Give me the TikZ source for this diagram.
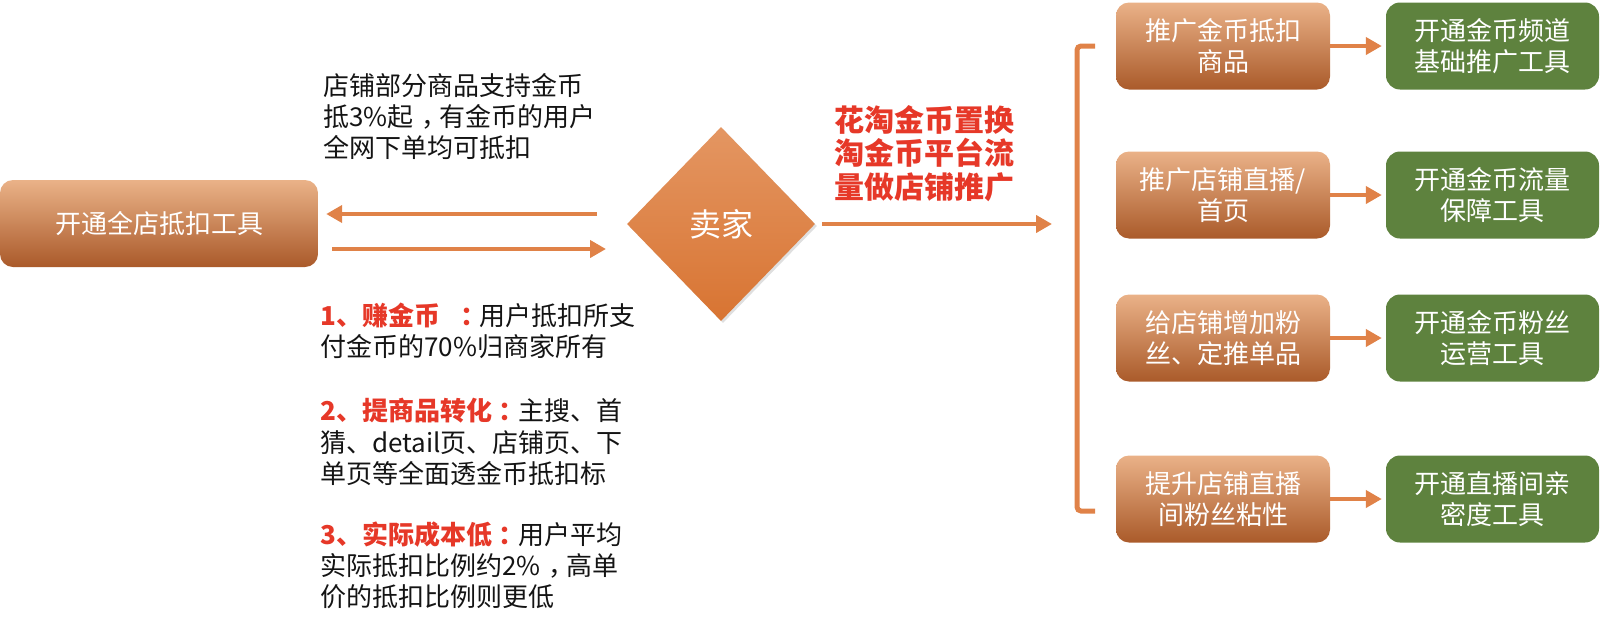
\documentclass[tikz,border=0pt]{standalone}
\usepackage{fontspec}
\setmainfont{Noto Sans CJK SC}
\usetikzlibrary{arrows.meta,shapes.geometric,shadows}
\definecolor{otop}{RGB}{234,178,136}
\definecolor{omid}{RGB}{224,134,70}
\definecolor{obot}{RGB}{170,90,42}
\definecolor{dtop}{RGB}{228,150,98}
\definecolor{dbot}{RGB}{216,116,50}
\definecolor{gfill}{RGB}{94,130,62}
\definecolor{arrowc}{RGB}{224,130,72}
\definecolor{redc}{RGB}{230,56,40}
\definecolor{textc}{RGB}{20,20,20}
\newcommand{\shiftpunct}[2]{\hspace{#1}#2\hspace{-#1}}
\begin{document}
\begin{tikzpicture}[x=1pt,y=-1pt,
  obox/.style={rounded corners=13pt, top color=otop, middle color=omid, bottom color=obot,
    minimum width=214pt, minimum height=87pt, text=white, align=center,
    font=\fontsize{26}{31}\selectfont, inner sep=0pt},
  gbox/.style={rounded corners=14pt, fill=gfill, minimum width=213pt, minimum height=87pt,
    text=white, align=center, font=\fontsize{26}{31}\selectfont, inner sep=0pt},
  arr/.style={draw=arrowc, line width=4pt, -{Triangle[length=16pt,width=17pt]}},
  bline/.style={draw=arrowc, line width=5pt, rounded corners=4pt},
  note/.style={anchor=west, align=left, inner sep=0pt, text=textc, font=\fontsize{26}{31.2}\selectfont}]
\useasboundingbox (0,0) rectangle (1600,627);

% left box
\node[obox, minimum width=318pt] (leftbox) at (159,223.5) {开通全店抵扣工具};

% seller diamond
\node[diamond, minimum width=188pt, minimum height=194pt, inner sep=0pt,
  top color=dtop, bottom color=dbot, text=white, font=\fontsize{32}{38}\selectfont,
  drop shadow={opacity=0.25, shadow xshift=2pt, shadow yshift=-2pt}] (seller) at (721,224) {卖家};

% arrows between left box and seller
\coordinate (u1) at (597,214);
\coordinate (l1) at (332,249);
\coordinate (l2) at (606,249);
\draw[arr, shorten >=8pt] (u1) -- (leftbox.east |- u1);
\draw[arr] (l1) -- (l2);

% notes
\node[note] (note1) at (323,116.5) {店铺部分商品支持金币\\抵3\%起\shiftpunct{0.3em}{，}有金币的用户\\全网下单均可抵扣};
\node[note] (p1) at (320,331) {\textcolor{redc}{\bfseries 1、赚金币\hspace{0.5em}\shiftpunct{0.3em}{：}}用户抵扣所支\\付金币的70\%归商家所有};
\node[note] (p2) at (320,442) {\textcolor{redc}{\bfseries 2、提商品转化\shiftpunct{0.25em}{：}}主搜、首\\猜、detail页、店铺页、下\\单页等全面透金币抵扣标};
\node[note] (p3) at (320,565) {\textcolor{redc}{\bfseries 3、实际成本低\shiftpunct{0.25em}{：}}用户平均\\实际抵扣比例约2\%\shiftpunct{0.3em}{，}高单\\价的抵扣比例则更低};

% promo text
\node[anchor=west, align=left, inner sep=0pt, text=redc, font=\bfseries\fontsize{30}{33.5}\selectfont] (promo) at (834,153.5) {花淘金币置换\\淘金币平台流\\量做店铺推广};

% long arrow to bracket
\coordinate (bk) at (1052,224);
\draw[arr] ([xshift=7pt]seller.east) -- (bk);

% bracket
\coordinate (b1) at (1095,46);
\coordinate (b2) at (1095,511);
\draw[bline] (b1) -- (1077,46) -- (1077,511) -- (b2);

% right boxes
\node[obox] (o1) at (1223,46) {推广金币抵扣\\商品};
\node[obox] (o2) at (1223,195) {推广店铺直播/\\首页};
\node[obox] (o3) at (1223,338) {给店铺增加粉\\丝、定推单品};
\node[obox] (o4) at (1223,499) {提升店铺直播\\间粉丝粘性};

\node[gbox] (g1) at (1492.5,46) {开通金币频道\\基础推广工具};
\node[gbox] (g2) at (1492.5,195) {开通金币流量\\保障工具};
\node[gbox] (g3) at (1492.5,338) {开通金币粉丝\\运营工具};
\node[gbox] (g4) at (1492.5,499) {开通直播间亲\\密度工具};

\foreach \i in {1,2,3,4} {
  \draw[arr, shorten >=4pt] (o\i) -- (g\i);
}
\end{tikzpicture}
\end{document}
